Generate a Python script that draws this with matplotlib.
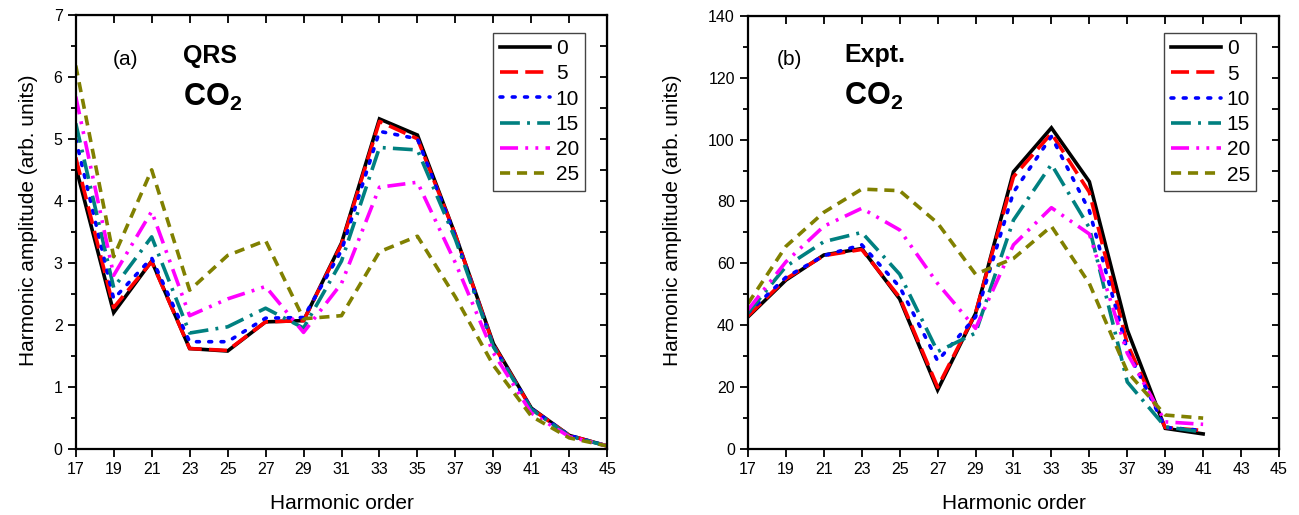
import matplotlib
matplotlib.use("Agg")
import matplotlib.pyplot as plt
from matplotlib.ticker import MultipleLocator
import numpy as np

plt.rcParams['font.family'] = ['Liberation Sans', 'DejaVu Sans']
plt.rcParams['mathtext.fontset'] = 'custom'
plt.rcParams['mathtext.rm'] = 'Liberation Sans'
plt.rcParams['mathtext.bf'] = 'Liberation Sans:bold'

# --- data -----------------------------------------------------------------
labels = ["0", "5", "10", "15", "20", "25"]

order_qrs = [17, 19, 21, 23, 25, 27, 29, 31, 33, 35, 37, 39, 41, 43, 45]
qrs_0 = [4.55, 2.2, 3.03, 1.62, 1.58, 2.05, 2.07, 3.32, 5.32, 5.06, 3.45, 1.7, 0.66, 0.22, 0.05]
qrs_5 = [4.7, 2.28, 3.02, 1.62, 1.59, 2.05, 2.07, 3.3, 5.28, 5.0, 3.45, 1.68, 0.65, 0.22, 0.05]
qrs_10 = [5.0, 2.42, 3.08, 1.73, 1.73, 2.11, 2.12, 3.2, 5.12, 5.0, 3.42, 1.66, 0.65, 0.22, 0.05]
qrs_15 = [5.25, 2.6, 3.42, 1.87, 1.97, 2.27, 1.95, 3.03, 4.86, 4.82, 3.38, 1.65, 0.64, 0.21, 0.05]
qrs_20 = [5.68, 2.8, 3.83, 2.15, 2.42, 2.62, 1.88, 2.67, 4.22, 4.3, 3.0, 1.55, 0.58, 0.2, 0.05]
qrs_25 = [6.18, 3.1, 4.5, 2.56, 3.12, 3.36, 2.1, 2.15, 3.18, 3.43, 2.45, 1.35, 0.53, 0.18, 0.05]

order_exp = [17, 19, 21, 23, 25, 27, 29, 31, 33, 35, 37, 39, 41]
exp_0 = [42.7, 54.6, 62.7, 64.8, 48.5, 19.1, 43.8, 89.6, 103.8, 86.4, 38.5, 6.7, 4.9]
exp_5 = [43, 55, 62.5, 64.5, 49, 20, 44, 88, 102, 83, 34, 7, 6]
exp_10 = [44, 55.5, 62.5, 66, 52.4, 28.5, 42.7, 83, 101, 77, 32, 7, 6]
exp_15 = [44, 59, 67, 70, 56.5, 31.5, 37.5, 74, 92, 71.5, 21.7, 7.2, 5.5]
exp_20 = [45, 60.5, 72, 77.8, 70.8, 53.5, 39, 66, 78, 69.5, 31, 8.8, 8]
exp_25 = [47, 65.5, 76.5, 84, 83.5, 73, 56.5, 61.6, 72, 53.5, 25, 11, 10]

colors = ["black", "#ff0000", "#0000ff", "#008080", "#ff00ff", "#808000"]
dashes = [None, (5, 2), (0.8, 2.6), (5.5, 2, 0.8, 2), (5, 2, 0.8, 2, 0.8, 2), (2.8, 1.9)]


def draw(ax, x, series, ymax, ymajor, yminor, tag, title, legend_xy, ylab_x):
    for y, c, d, lab in zip(series, colors, dashes, labels):
        if d is None:
            ax.plot(x, y, color=c, lw=2.6, label=lab, solid_joinstyle='miter')
        else:
            ax.plot(x, y, color=c, lw=2.6, label=lab, dashes=d,
                    dash_capstyle='round' if d[0] < 1 else 'butt')
    ax.set_xlim(17, 45)
    ax.set_ylim(0, ymax)
    ax.set_xticks(np.arange(17, 46, 2))
    ax.yaxis.set_major_locator(MultipleLocator(ymajor))
    ax.yaxis.set_minor_locator(MultipleLocator(yminor))
    ax.tick_params(axis='both', which='major', direction='out', length=6,
                   width=1.3, labelsize=11.5)
    ax.tick_params(axis='y', which='minor', direction='out', length=3.5, width=1.3)
    for s in ax.spines.values():
        s.set_linewidth(1.6)

    top = ax.secondary_xaxis('top')
    top.set_xticks(np.arange(17, 46, 2))
    top.tick_params(direction='in', length=6, width=1.3, labeltop=False)
    right = ax.secondary_yaxis('right')
    right.yaxis.set_major_locator(MultipleLocator(yminor))
    right.tick_params(direction='in', length=5, width=1.3, labelright=False)

    ax.set_xlabel("Harmonic order", fontsize=15, labelpad=12)
    ax.set_ylabel("Harmonic amplitude (arb. units)", fontsize=15)
    ax.yaxis.set_label_coords(ylab_x, 0.527)

    ax.text(tag[0], tag[1], tag[2], transform=ax.transAxes, fontsize=15,
            ha='center', va='center')
    ax.text(title[0], title[1], title[2], transform=ax.transAxes, fontsize=18,
            fontweight='bold', ha='left', va='center')
    ax.text(title[0], title[1] - 0.115, r'$\mathbf{CO_2}$', transform=ax.transAxes,
            fontsize=22, ha='left', va='baseline')

    leg = ax.legend(loc='upper left', bbox_to_anchor=legend_xy, borderaxespad=0,
                    fontsize=15, handlelength=2.4, handletextpad=0.3,
                    labelspacing=0.3, borderpad=0.3, fancybox=False,
                    framealpha=1, edgecolor='#444444')
    leg.get_frame().set_linewidth(1.0)


fig = plt.figure(figsize=(12.99, 5.15), dpi=100)
ax1 = fig.add_axes([0.0583, 0.128, 0.4092, 0.8435])
ax2 = fig.add_axes([0.5758, 0.128, 0.4088, 0.8413])

draw(ax1, order_qrs, [qrs_0, qrs_5, qrs_10, qrs_15, qrs_20, qrs_25],
     7, 1, 0.5, (0.093, 0.896, "(a)"), (0.202, 0.905, "QRS"), (0.7856, 0.958), -0.071)
draw(ax2, order_exp, [exp_0, exp_5, exp_10, exp_15, exp_20, exp_25],
     140, 20, 10, (0.079, 0.90, "(b)"), (0.181, 0.909, "Expt."), (0.784, 0.960), -0.124)

fig.savefig("out.png", dpi=100)
